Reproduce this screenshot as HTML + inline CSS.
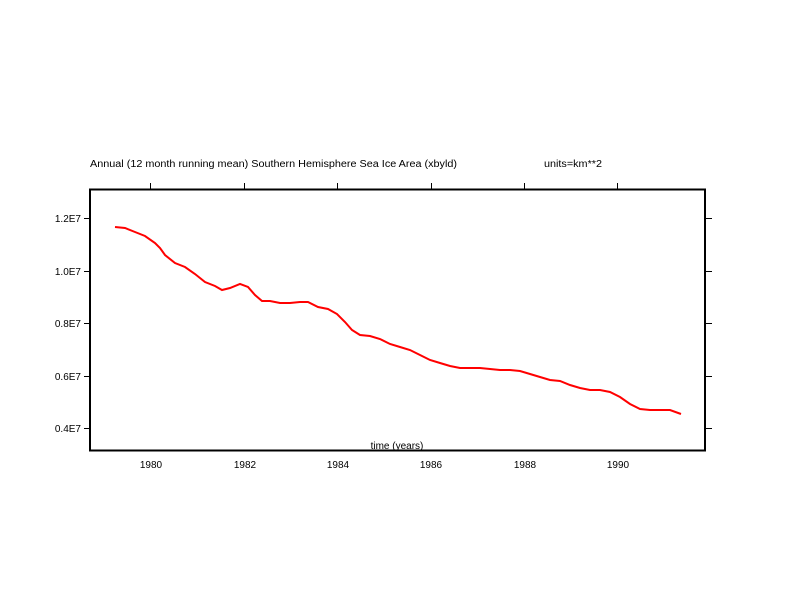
<!DOCTYPE html>
<html><head><style>body{margin:0;background:#fff}svg{display:block}</style></head><body>
<svg width="792" height="612" xmlns="http://www.w3.org/2000/svg" font-family="Liberation Sans, sans-serif" font-size="10">
<rect width="792" height="612" fill="#fff"/>
<text x="90" y="167" textLength="367" lengthAdjust="spacingAndGlyphs">Annual (12 month running mean) Southern Hemisphere Sea Ice Area (xbyld)</text>
<text x="544" y="167" textLength="58" lengthAdjust="spacingAndGlyphs">units=km**2</text>
<rect x="90" y="189.5" width="615" height="261" fill="none" stroke="#000" stroke-width="2"/>
<g stroke="#000" stroke-width="1">
<line x1="150.5" y1="183" x2="150.5" y2="189"/><line x1="244.5" y1="183" x2="244.5" y2="189"/><line x1="337.5" y1="183" x2="337.5" y2="189"/><line x1="431.5" y1="183" x2="431.5" y2="189"/><line x1="524.5" y1="183" x2="524.5" y2="189"/><line x1="617.5" y1="183" x2="617.5" y2="189"/>
<line x1="84" y1="218.5" x2="90" y2="218.5"/><line x1="84" y1="271.5" x2="90" y2="271.5"/><line x1="84" y1="323.5" x2="90" y2="323.5"/><line x1="84" y1="376.5" x2="90" y2="376.5"/><line x1="84" y1="428.5" x2="90" y2="428.5"/>
<line x1="705" y1="218.5" x2="712" y2="218.5"/><line x1="705" y1="271.5" x2="712" y2="271.5"/><line x1="705" y1="323.5" x2="712" y2="323.5"/><line x1="705" y1="376.5" x2="712" y2="376.5"/><line x1="705" y1="428.5" x2="712" y2="428.5"/>
</g>
<g text-anchor="end">
<text x="81" y="222">1.2E7</text><text x="81" y="275">1.0E7</text><text x="81" y="327">0.8E7</text><text x="81" y="380">0.6E7</text><text x="81" y="432">0.4E7</text>
</g>
<g text-anchor="middle">
<text x="151" y="468">1980</text><text x="245" y="468">1982</text><text x="338" y="468">1984</text><text x="431" y="468">1986</text><text x="525" y="468">1988</text><text x="618" y="468">1990</text>
<text x="397" y="449">time (years)</text>
</g>
<polyline fill="none" stroke="#f00" stroke-width="2" points="115,227 125,228 135,232 145,236 155,243 160,248 165,255 175,263 185,267 195,274 205,282 215,286 222,290 230,288 240,284 248,287 255,295 262,301 270,301 280,303 290,303 300,302 308,302 318,307 328,309 337,314 345,322 352,330 360,335 370,336 380,339 390,344 400,347 410,350 420,355 430,360 440,363 450,366 460,368 470,368 480,368 490,369 500,370 510,370 520,371 530,374 540,377 550,380 560,381 570,385 580,388 590,390 600,390 610,392 620,397 630,404 640,409 650,410 660,410 670,410 681,414"/>
</svg>
</body></html>
